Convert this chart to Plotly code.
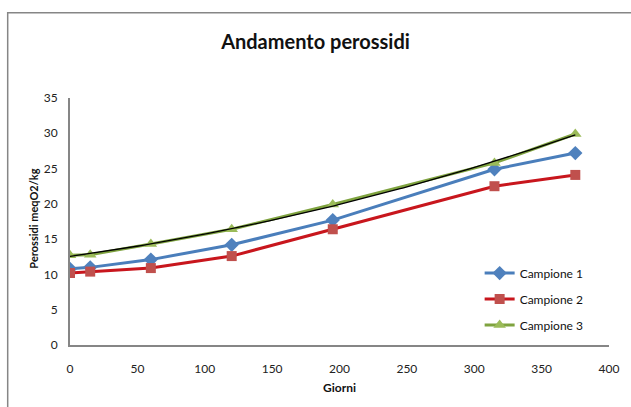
import numpy as np
import plotly.graph_objects as go

# Sampling days and peroxide values for each sample
giorni = [0, 15, 60, 120, 195, 315, 375]
campione_1 = [10.8, 11.0, 12.1, 14.2, 17.7, 24.9, 27.2]
campione_2 = [10.2, 10.4, 10.9, 12.6, 16.4, 22.5, 24.1]
campione_3 = [12.7, 12.8, 14.3, 16.4, 19.9, 25.8, 29.9]

x_ticks = [0, 50, 100, 150, 200, 250, 300, 350, 400]
y_ticks = [0, 5, 10, 15, 20, 25, 30, 35]

font_family = "Lato, 'Open Sans', sans-serif"

fig = go.Figure()

series = [
    ("Campione 1", campione_1, "#4A7EBB", "#4F81BD", "diamond", 11),
    ("Campione 2", campione_2, "#C8161D", "#C0504D", "square", 10),
    ("Campione 3", campione_3, "#7FA33F", "#9BBB59", "triangle-up", 11),
]
for name, values, line_col, marker_col, symbol, size in series:
    fig.add_trace(go.Scatter(
        x=giorni, y=values, name=name, mode="lines+markers",
        legendgroup=name,
        line=dict(color=line_col, width=3),
        marker=dict(symbol=symbol, size=size, color=marker_col,
                    line=dict(width=0)),
    ))

# Second-order polynomial trend for Campione 3
coef = np.polyfit(giorni, campione_3, 2)
x_fit = np.linspace(giorni[0], giorni[-1], 200)
fig.add_trace(go.Scatter(
    x=x_fit, y=np.polyval(coef, x_fit), mode="lines",
    line=dict(color="#000000", width=1.3), showlegend=False,
    hoverinfo="skip",
))

axis_common = dict(
    showgrid=False, zeroline=False, showline=True,
    linecolor="#868686", linewidth=2, ticks="",
    tickfont=dict(family=font_family, size=12, color="#222222"),
)

fig.update_xaxes(range=[0, 400], tickvals=x_ticks, ticklabelstandoff=12,
                 title=dict(text="<b>Giorni</b>", standoff=8,
                            font=dict(family=font_family, size=12, color="#111111")),
                 **axis_common)
fig.update_yaxes(range=[0, 35], tickvals=y_ticks, ticklabelstandoff=8,
                 **axis_common)

fig.add_annotation(
    text="<b>Perossidi meqO2/kg</b>", textangle=-90,
    xref="paper", yref="paper", x=-0.068, y=0.513,
    xanchor="center", yanchor="middle",
    showarrow=False, font=dict(family=font_family, size=11, color="#111111"),
)

# Outer chart frame
fig.add_shape(type="rect", xref="paper", yref="paper",
              x0=-0.1156, y0=-0.35, x1=1.2, y1=1.345,
              line=dict(color="#868686", width=1.5), fillcolor="rgba(0,0,0,0)",
              layer="below")

fig.update_layout(
    width=631, height=407,
    margin=dict(l=70, r=16, t=98, b=62),
    paper_bgcolor="white", plot_bgcolor="white",
    title=dict(text="<b>Andamento perossidi</b>", x=0.5, xanchor="center",
               y=1 - 42 / 407, yanchor="middle",
               font=dict(family=font_family, size=20, color="#111111")),
    legend=dict(x=0.76, y=0.35, xanchor="left", yanchor="top",
                bgcolor="rgba(0,0,0,0)", traceorder="grouped",
                tracegroupgap=7,
                font=dict(family=font_family, size=12, color="#111111")),
    showlegend=True,
)

fig.write_html("out.html")
